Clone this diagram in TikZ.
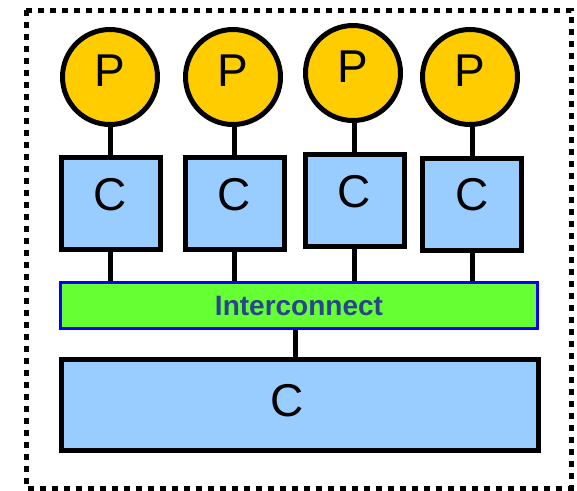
\documentclass[tikz,border=0pt]{standalone}
\usepackage{fontspec}
\setmainfont{Liberation Sans}
\definecolor{procyellow}{HTML}{FFCC00}
\definecolor{cacheblue}{HTML}{99CCFF}
\definecolor{netgreen}{HTML}{66FF33}
\definecolor{netblue}{HTML}{0000FF}
\definecolor{labelblue}{RGB}{40,70,140}
\begin{document}
\begin{tikzpicture}[x=1pt,y=-1pt,
  proc/.style={circle,draw=black,line width=5pt,fill=procyellow,minimum size=95pt,inner sep=0pt},
  cachebox/.style={rectangle,draw=black,line width=5pt,fill=cacheblue,minimum width=99pt,minimum height=92pt,inner sep=0pt},
  bigcache/.style={rectangle,draw=black,line width=5pt,fill=cacheblue,minimum width=477pt,minimum height=91pt,inner sep=0pt},
  bus/.style={rectangle,draw=netblue,line width=3pt,fill=netgreen,minimum width=477pt,minimum height=46pt,inner sep=0pt,font=\fontsize{28}{28}\selectfont\bfseries,text=labelblue},
  letter/.style={inner sep=0pt,font=\fontsize{46}{46}\selectfont},
  wire/.style={line width=5pt}]
  \useasboundingbox (0,0) rectangle (577,490);
  % dotted enclosure
  \draw[line width=5pt,dash pattern=on 6pt off 6pt] (26,10) rectangle (571,488);
  % processors
  \node[proc] (p1) at (110,77) {};
  \node[proc] (p2) at (233,77) {};
  \node[proc] (p3) at (353,73) {};
  \node[proc] (p4) at (470,77) {};
  % private caches
  \node[cachebox] (c1) at (110.5,203.5) {};
  \node[cachebox] (c2) at (234.5,203.5) {};
  \node[cachebox] (c3) at (354.5,200.5) {};
  \node[cachebox] (c4) at (472,204) {};
  % interconnect and shared cache
  \node[bus] (net) at (299,305.5) {Interconnect};
  \node[bigcache] (shared) at (300,404.5) {};
  % letters
  \foreach \i in {1,2,3,4}{
    \node[letter] (pl\i) at ([yshift=6pt]p\i.center) {P};
    \node[letter] (cl\i) at ([yshift=9pt]c\i.center) {C};
  }
  \node[letter] (sl) at (287,401) {C};
  % links
  \foreach \i in {1,2,3,4}{
    \draw[wire] (c\i.north) -- (c\i.north |- p\i.south);
    \draw[wire] (c\i.south) -- (c\i.south |- net.north);
  }
  \draw[wire] (shared.north -| 295,0) -- (net.south -| 295,0);
\end{tikzpicture}
\end{document}
